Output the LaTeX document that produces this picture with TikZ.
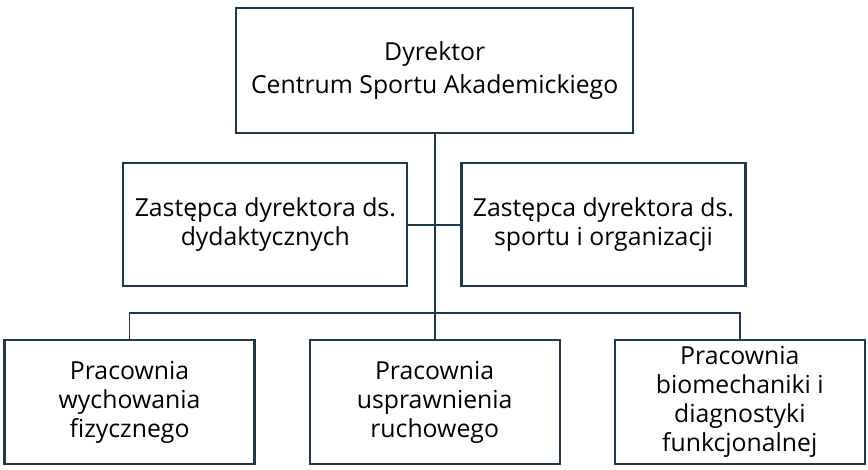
\documentclass[tikz,border=0pt]{standalone}
\usepackage{fontspec}
\setmainfont{Open Sans}
\usepackage{xcolor}
\usepackage{tikz}
\usetikzlibrary{positioning}
\definecolor{boxline}{RGB}{31, 56, 77}
\tikzset{
    unit/.style={rectangle, draw=boxline, fill=white, line width=1.6pt, text centered, align=center, inner sep=4pt, font=\fontsize{18.6pt}{21.75pt}\selectfont},
    headbox/.style={unit, minimum width=298pt, minimum height=94pt},
    deputy/.style={unit, minimum width=213pt, minimum height=92pt},
    lab/.style={unit, minimum width=187.5pt, minimum height=93pt},
    line/.style={draw, line width=1.4pt, color=boxline}
}
\begin{document}
\begin{tikzpicture}
        \useasboundingbox (0,0) rectangle (651pt,-352.5pt);

        % Director
        \node [headbox] (director) at (326pt,-52.9pt) {Dyrektor\\[3pt]Centrum Sportu Akademickiego};

        % Deputies
        \node [deputy, below=21pt of director, xshift=-127pt] (didactic) {Zastępca dyrektora ds.\\dydaktycznych};
        \node [deputy, right=39pt of didactic] (sport) {Zastępca dyrektora ds.\\sportu i organizacji};

        % Labs
        \node [lab, below=153.75pt of director] (rehab) {Pracownia\\usprawnienia\\ruchowego};
        \node [lab, left=39.75pt of rehab] (physed) {Pracownia\\wychowania\\fizycznego};
        \node [lab, right=39.75pt of rehab] (biomech) {Pracownia\\biomechaniki i\\diagnostyki\\funkcjonalnej};

        % Connections
        \coordinate (bus) at ([yshift=19.5pt]rehab.north);
        \draw [line] (director.south) -- (rehab.north);
        \draw [line] (didactic.east) -- (sport.west);
        \draw [line] (physed.north) |- (bus) -| (biomech.north);

    \end{tikzpicture}
\end{document}
